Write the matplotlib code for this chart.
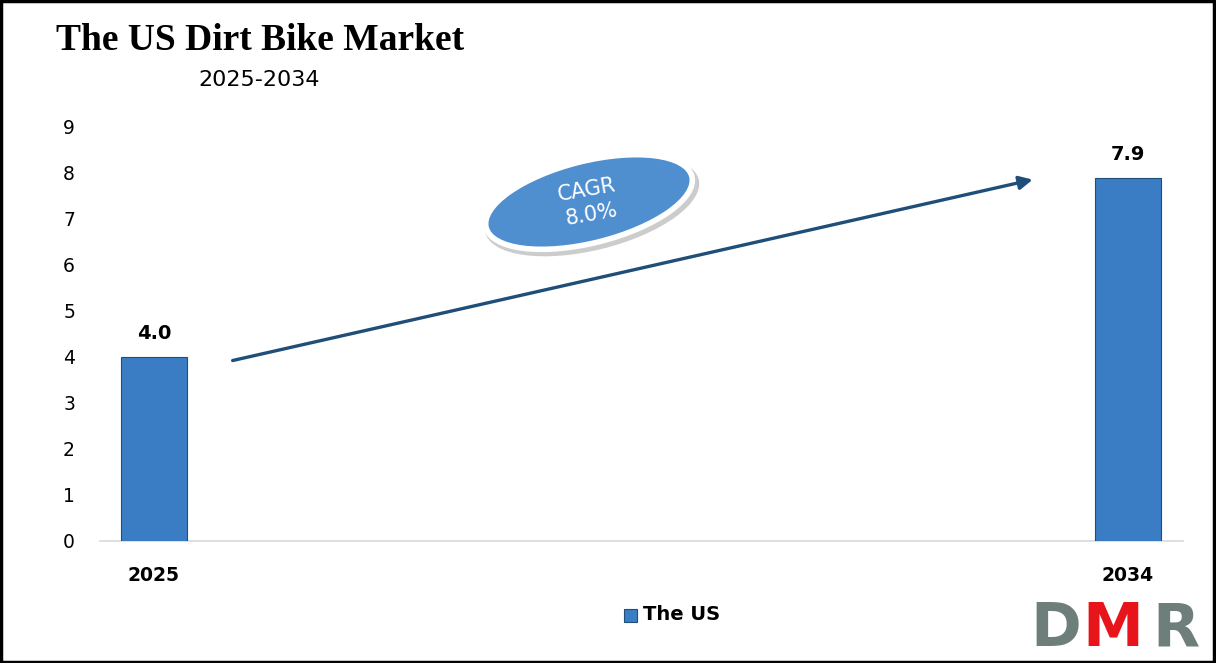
import matplotlib
matplotlib.use("Agg")
import matplotlib.pyplot as plt
from matplotlib.patches import Ellipse, Rectangle
from matplotlib.transforms import IdentityTransform

years = ["2025", "2034"]
values = [4.0, 7.9]
value_labels = ["4.0", "7.9"]
yticks = [0, 1, 2, 3, 4, 5, 6, 7, 8, 9]
title = "The US Dirt Bike Market"
subtitle = "2025-2034"
cagr_text = "CAGR\n8.0%"
legend_label = "The US"

W, H = 1216, 663
fig = plt.figure(figsize=(W / 100, H / 100), dpi=100)
fig.patch.set_facecolor("white")

ax = fig.add_axes([100 / W, 1 - 541 / H, 1083 / W, (541 - 127) / H])
x = list(range(len(years)))
bar_color = "#3A7DC4"
ax.bar(x, values, width=0.068, color=bar_color, edgecolor="#1F4E79", linewidth=0.8, zorder=3)
for xi, v, lab in zip(x, values, value_labels):
    ax.text(xi, v + 0.3, lab, ha="center", va="bottom", fontsize=14, fontweight="bold", family="DejaVu Sans")

ax.set_xlim(-0.0554, 1.0565)
ax.set_ylim(0, 9)
ax.set_yticks(yticks)
ax.set_yticklabels([str(t) for t in yticks], fontsize=13.5, family="DejaVu Sans")
ax.set_xticks(x)
ax.set_xticklabels(years, fontsize=13.5, fontweight="bold", family="DejaVu Sans")
ax.tick_params(axis="y", length=0, pad=18)
ax.tick_params(axis="x", length=0, pad=18)
for s in ["top", "right", "left"]:
    ax.spines[s].set_visible(False)
ax.spines["bottom"].set_color("#D9D9D9")
ax.spines["bottom"].set_linewidth(1.2)

# CAGR arrow
ax.annotate("", xy=(0.905, 7.87), xytext=(0.078, 3.91),
            arrowprops=dict(arrowstyle="-|>", color="#1F4E79", lw=2.4, mutation_scale=20), zorder=4)

# CAGR ellipse (pixel coordinates)
cx, cy = 589, H - 202
shadow = Ellipse((cx + 3, cy - 4), 220, 88, angle=14, transform=IdentityTransform(),
                 facecolor="#9A9A9A", edgecolor="none", alpha=0.5, zorder=5)
fig.patches.append(shadow)
ell = Ellipse((cx, cy), 212, 82, angle=14, transform=IdentityTransform(),
              facecolor="#4F8FCF", edgecolor="white", linewidth=4, zorder=6)
fig.patches.append(ell)
fig.text(cx / W, cy / H, cagr_text, ha="center", va="center", color="white", fontsize=15,
         rotation=10, linespacing=1.3, family="DejaVu Sans", zorder=7)

# Titles
fig.text(260 / W, 1 - 40 / H, title, ha="center", va="center", fontsize=27,
         fontweight="bold", family="Liberation Serif")
fig.text(259 / W, 1 - 80 / H, subtitle, ha="center", va="center", fontsize=16, family="DejaVu Sans")

# Legend
fig.patches.append(Rectangle((624 / W, 1 - 622 / H), 13 / W, 13 / H, transform=fig.transFigure,
                             facecolor=bar_color, edgecolor="#1F4E79", linewidth=0.8))
fig.text(643 / W, 1 - 615 / H, legend_label, ha="left", va="center", fontsize=14,
         fontweight="bold", family="DejaVu Sans")

# DMR logo
gray = "#6E7E7B"
red = "#E8141B"
logo_y = 1 - 630 / H
fig.text(1030 / W, logo_y, "D", ha="left", va="center", fontsize=44, fontweight="bold",
         color=gray, family="DejaVu Sans")
fig.text(1082 / W, logo_y, "M", ha="left", va="center", fontsize=44, fontweight="bold",
         color=red, family="DejaVu Sans")
fig.text(1152 / W, logo_y, "R", ha="left", va="center", fontsize=44, fontweight="bold",
         color=gray, family="DejaVu Sans")

# border
fig.patches.append(Rectangle((0.001, 0.002), 0.997, 0.996, transform=fig.transFigure,
                             facecolor="none", edgecolor="black", linewidth=2.5))

fig.savefig("out.png", dpi=100)
